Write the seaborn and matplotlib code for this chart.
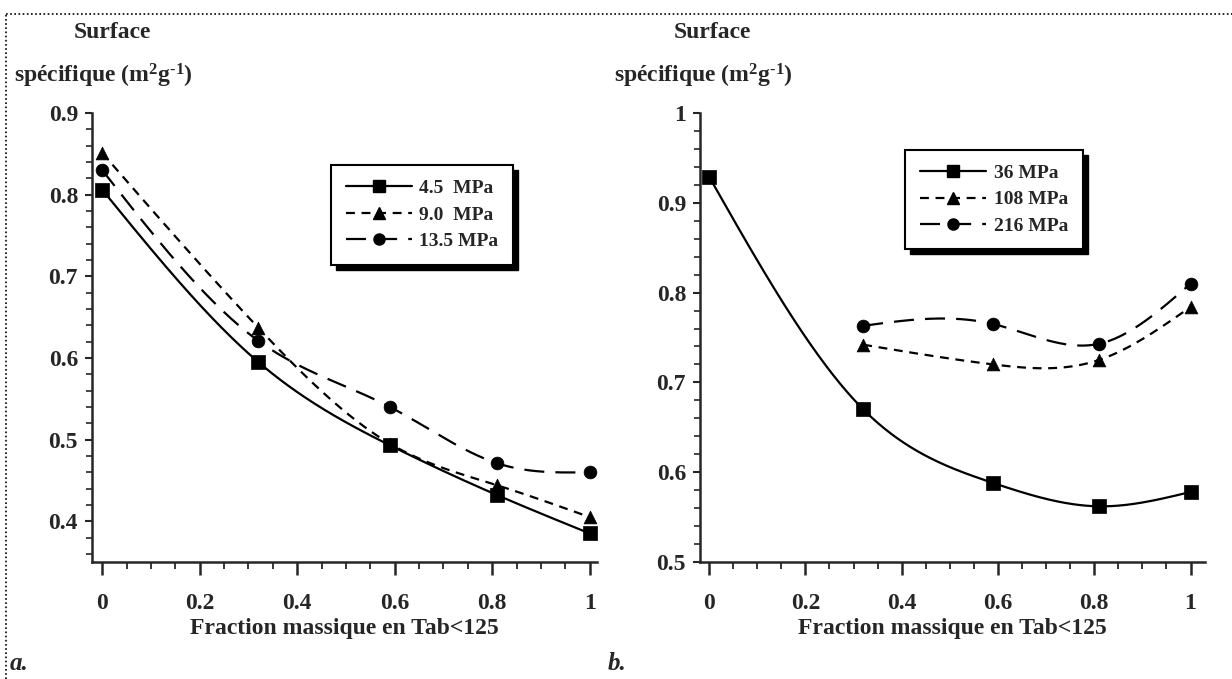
import numpy as np
import pandas as pd
import matplotlib
matplotlib.use("Agg")
import matplotlib.pyplot as plt
import seaborn as sns
from matplotlib.lines import Line2D
from matplotlib.patches import Rectangle
from matplotlib.transforms import IdentityTransform
from matplotlib.ticker import MultipleLocator, FuncFormatter

# ---------------- data ----------------
x_a = [0.0, 0.32, 0.59, 0.81, 1.0]
a_45 = [0.806, 0.595, 0.493, 0.432, 0.385]
a_90 = [0.851, 0.637, 0.495, 0.444, 0.405]
a_135 = [0.830, 0.621, 0.540, 0.471, 0.460]
labels_a = ["4.5  MPa", "9.0  MPa", "13.5 MPa"]

x_b36 = [0.0, 0.32, 0.59, 0.81, 1.0]
b_36 = [0.929, 0.670, 0.588, 0.562, 0.578]
x_b = [0.32, 0.59, 0.81, 1.0]
b_108 = [0.742, 0.720, 0.725, 0.784]
b_216 = [0.763, 0.765, 0.743, 0.810]
labels_b = ["36 MPa", "108 MPa", "216 MPa"]

xlabel = "Fraction massique en Tab<125"

# ---------------- style ----------------
sns.set_style("ticks")
plt.rcParams["font.family"] = ["Liberation Serif", "DejaVu Serif"]
plt.rcParams["font.weight"] = "bold"
plt.rcParams["mathtext.fontset"] = "custom"
plt.rcParams["mathtext.rm"] = "Liberation Serif:bold"
plt.rcParams["mathtext.bf"] = "Liberation Serif:bold"
plt.rcParams["mathtext.it"] = "Liberation Serif:bold:italic"

SHORT = (0, (4, 3))
LONG = (0, (9, 5))
LW = 1.6
TICK_FS = 17


def smooth(x, y, n=300):
    x = np.asarray(x, float)
    y = np.asarray(y, float)
    m = len(x)
    h = np.diff(x)
    A = np.zeros((m, m))
    r = np.zeros(m)
    A[0, 0] = A[-1, -1] = 1
    for i in range(1, m - 1):
        A[i, i - 1] = h[i - 1]
        A[i, i] = 2 * (h[i - 1] + h[i])
        A[i, i + 1] = h[i]
        r[i] = 6 * ((y[i + 1] - y[i]) / h[i] - (y[i] - y[i - 1]) / h[i - 1])
    M = np.linalg.solve(A, r)
    xs = np.linspace(x[0], x[-1], n)
    idx = np.clip(np.searchsorted(x, xs) - 1, 0, m - 2)
    x0, x1 = x[idx], x[idx + 1]
    hh = x1 - x0
    a = (x1 - xs) / hh
    b = (xs - x0) / hh
    ys = a * y[idx] + b * y[idx + 1] + ((a ** 3 - a) * M[idx] + (b ** 3 - b) * M[idx + 1]) * hh ** 2 / 6
    return xs, ys


def draw_series(ax, x, y, ls, marker, msize):
    xs, ys = smooth(x, y)
    df = pd.DataFrame({"x": xs, "y": ys})
    sns.lineplot(data=df, x="x", y="y", ax=ax, color="black", lw=LW,
                 linestyle=ls, sort=False, estimator=None)
    dp = pd.DataFrame({"x": x, "y": y})
    sns.scatterplot(data=dp, x="x", y="y", ax=ax, marker=marker, s=msize,
                    color="black", edgecolor="black", linewidth=0.5, zorder=5)


fig = plt.figure(figsize=(12.32, 6.79), dpi=100)
W, H = 1232, 679
ax1 = fig.add_axes([92 / W, 1 - 562 / H, 505 / W, 449 / H])
ax2 = fig.add_axes([700 / W, 1 - 562 / H, 505 / W, 449 / H])

draw_series(ax1, x_a, a_45, "-", "s", 95)
draw_series(ax1, x_a, a_90, SHORT, "^", 85)
draw_series(ax1, x_a, a_135, LONG, "o", 85)

draw_series(ax2, x_b36, b_36, "-", "s", 95)
draw_series(ax2, x_b, b_108, SHORT, "^", 85)
draw_series(ax2, x_b, b_216, LONG, "o", 85)

fmt = FuncFormatter(lambda v, p: "%g" % round(v, 3))
for ax, ylo, yhi, xlo, xhi in [(ax1, 0.35, 0.9, -0.021, 1.015), (ax2, 0.5, 1.0, -0.019, 1.03)]:
    ax.set_xlim(xlo, xhi)
    ax.set_ylim(ylo, yhi)
    ax.xaxis.set_major_locator(MultipleLocator(0.2))
    ax.xaxis.set_minor_locator(MultipleLocator(0.05))
    ax.yaxis.set_major_locator(MultipleLocator(0.1))
    ax.yaxis.set_minor_locator(MultipleLocator(0.02))
    ax.xaxis.set_major_formatter(fmt)
    ax.yaxis.set_major_formatter(fmt)
    ax.spines["top"].set_visible(False)
    ax.spines["right"].set_visible(False)
    ax.spines["left"].set_linewidth(1.8)
    ax.spines["bottom"].set_linewidth(1.8)
    ax.tick_params(axis="x", which="major", direction="out", length=9, width=1.8,
                   labelsize=TICK_FS, pad=13)
    ax.tick_params(axis="x", which="minor", direction="out", length=5, width=1.3)
    ax.tick_params(axis="y", which="major", direction="out", length=5, width=1.5,
                   labelsize=TICK_FS, pad=5)
    ax.tick_params(axis="y", which="minor", direction="out", length=4, width=1.2)
    for lab in ax.get_xticklabels() + ax.get_yticklabels():
        lab.set_fontweight("bold")
    ax.set_xlabel(xlabel, fontsize=TICK_FS, fontweight="bold", labelpad=3)
    ax.set_ylabel("")
    ax.set_facecolor("none")


def make_legend(ax, labels, anchor):
    handles = [
        Line2D([], [], color="black", lw=LW, ls="-", marker="s", ms=9),
        Line2D([], [], color="black", lw=LW, ls=SHORT, marker="^", ms=8),
        Line2D([], [], color="black", lw=LW, ls=LONG, marker="o", ms=8),
    ]
    leg = ax.legend(handles, labels, loc="upper right", bbox_to_anchor=anchor,
                    prop={"family": ["Liberation Serif"], "weight": "bold", "size": 14},
                    frameon=True, fancybox=False, edgecolor="black", framealpha=1,
                    handlelength=3.4, handletextpad=0.4, labelspacing=0.45,
                    borderpad=0.75, borderaxespad=0)
    leg.get_frame().set_linewidth(1.5)
    leg.set_zorder(10)
    return leg


leg1 = make_legend(ax1, labels_a, (0.834, 0.884))
leg2 = make_legend(ax2, labels_b, (0.758, 0.918))

# axis titles (y label)
for x0 in (0, 600):
    fig.text((x0 + 112) / W, 1 - 32 / H, "Surface", fontsize=17, fontweight="bold",
             ha="center", va="center")
    fig.text((x0 + 14) / W, 1 - 76 / H, r"spécifique (m$^{2}$g$^{\text{-1}}$)",
             fontsize=17, fontweight="bold", ha="left", va="center")

fig.text(10 / W, 1 - 664 / H, "a.", fontsize=18, fontweight="bold", style="italic",
         ha="left", va="center")
fig.text(608 / W, 1 - 664 / H, "b.", fontsize=18, fontweight="bold", style="italic",
         ha="left", va="center")

# dotted frame (top and left)
fig.add_artist(Line2D([6 / W, 1], [1 - 14 / H, 1 - 14 / H], transform=fig.transFigure,
                      color="black", lw=1.2, ls=(0, (1, 1.5))))
fig.add_artist(Line2D([6 / W, 6 / W], [0, 1 - 14 / H], transform=fig.transFigure,
                      color="black", lw=1.2, ls=(0, (1, 1.5))))

# heavy drop shadow behind each legend box
fig.canvas.draw()
renderer = fig.canvas.get_renderer()
for ax, leg in ((ax1, leg1), (ax2, leg2)):
    bb = leg.get_frame().get_window_extent(renderer)
    sh = Rectangle((bb.x0 + 5, bb.y0 - 5), bb.width, bb.height,
                   transform=IdentityTransform(), facecolor="black",
                   edgecolor="black", zorder=9, clip_on=False)
    ax.add_artist(sh)

fig.savefig("out.png", dpi=100, facecolor="white")
